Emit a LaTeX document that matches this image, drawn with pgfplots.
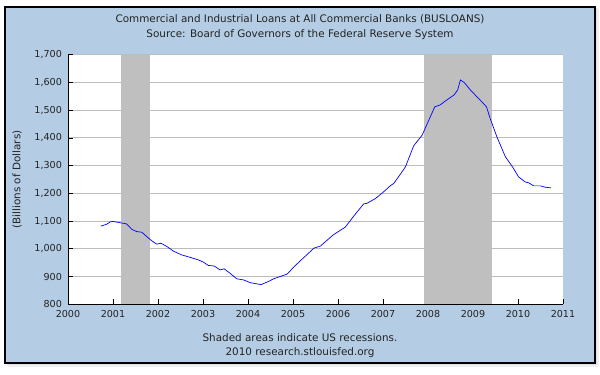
\documentclass[border=0pt]{standalone}
\usepackage{fontspec}
\setmainfont{DejaVu Sans}
\usepackage{pgfplots}
\pgfplotsset{compat=1.18}
\definecolor{fredblue}{RGB}{180,205,228}
\definecolor{recgray}{RGB}{191,191,191}
\definecolor{gridgray}{RGB}{188,188,188}
\definecolor{txt}{RGB}{35,35,35}
\newcommand{\fs}{\fontsize{9.6}{11}\selectfont}
\newcommand{\ft}{\fontsize{10.4}{12}\selectfont}
\begin{document}
\begin{tikzpicture}[x=1pt,y=1pt]
\fill[white] (0,0) rectangle (600,375);
\fill[black!6] (8,8) rectangle (599,366);
\fill[black!12] (7,10) rectangle (597,367);
\filldraw[fill=fredblue, draw=black, line width=1.2pt] (5,12) rectangle (595,368);
\begin{axis}[
  at={(68pt,70.7pt)}, anchor=south west,
  scale only axis, width=495pt, height=249.6pt,
  xmin=2000, xmax=2011, ymin=800, ymax=1700,
  axis background/.style={fill=white},
  axis x line*=bottom, axis y line*=left,
  axis line style={black, line width=0.9pt},
  xtick={2000,2001,...,2011},
  ytick={800,900,...,1700},
  tick align=inside, major tick length=5pt,
  tick style={black, line width=0.8pt},
  ymajorgrids, grid style={gridgray, line width=0.9pt},
  /pgf/number format/assume math mode=true,
  xticklabel style={/pgf/number format/1000 sep={}, font=\fs, text=txt, yshift=-2.5pt},
  yticklabel style={/pgf/number format/1000 sep={,}, font=\fs, text=txt, xshift=-2.5pt},
  ylabel={(Billions of Dollars)},
  ylabel style={at={(axis description cs:-0.103,0.5)}, anchor=center, font=\ft, text=txt},
  clip=true,
]
\addplot[fill=recgray, draw=none] coordinates {(2001.17,800) (2001.17,1700) (2001.83,1700) (2001.83,800)} -- cycle;
\addplot[fill=recgray, draw=none] coordinates {(2007.92,800) (2007.92,1700) (2009.42,1700) (2009.42,800)} -- cycle;
\addplot[blue, line width=0.7pt] coordinates {
(2000.73,1082) (2000.85,1088) (2000.94,1097) (2001.00,1099) (2001.16,1094)
(2001.30,1090) (2001.42,1070) (2001.53,1062) (2001.64,1060) (2001.75,1044)
(2001.86,1029) (2001.97,1017) (2002.07,1020) (2002.20,1008) (2002.35,991)
(2002.53,978) (2002.72,969) (2002.90,960) (2003.01,952) (2003.12,940)
(2003.25,938) (2003.38,924) (2003.47,928) (2003.60,912) (2003.75,892)
(2003.90,888) (2004.05,878) (2004.29,871) (2004.45,882) (2004.57,892)
(2004.87,909) (2005.01,933) (2005.15,955) (2005.31,979) (2005.46,1002)
(2005.61,1010) (2005.75,1030) (2005.90,1051) (2006.16,1078) (2006.35,1118)
(2006.57,1162) (2006.64,1164) (2006.83,1181) (2007.01,1205) (2007.16,1227)
(2007.24,1236) (2007.39,1270) (2007.50,1296) (2007.68,1371) (2007.87,1410)
(2008.15,1512) (2008.27,1519) (2008.42,1537) (2008.58,1555) (2008.66,1573)
(2008.72,1609) (2008.81,1599) (2008.94,1573) (2009.12,1543) (2009.30,1512)
(2009.38,1471) (2009.53,1404) (2009.72,1332) (2009.90,1290) (2010.01,1260)
(2010.16,1241) (2010.24,1238) (2010.35,1227) (2010.50,1227) (2010.61,1222)
(2010.73,1220)
};
\end{axis}
\node[font=\ft, text=txt] at (300,356) {Commercial and Industrial Loans at All Commercial Banks (BUSLOANS)};
\node[font=\ft, text=txt] at (300,340) {Source: Board of Governors of the Federal Reserve System};
\node[font=\ft, text=txt] at (300,37) {Shaded areas indicate US recessions.};
\node[font=\ft, text=txt] at (300,22.5) {2010 research.stlouisfed.org};
\end{tikzpicture}
\end{document}
